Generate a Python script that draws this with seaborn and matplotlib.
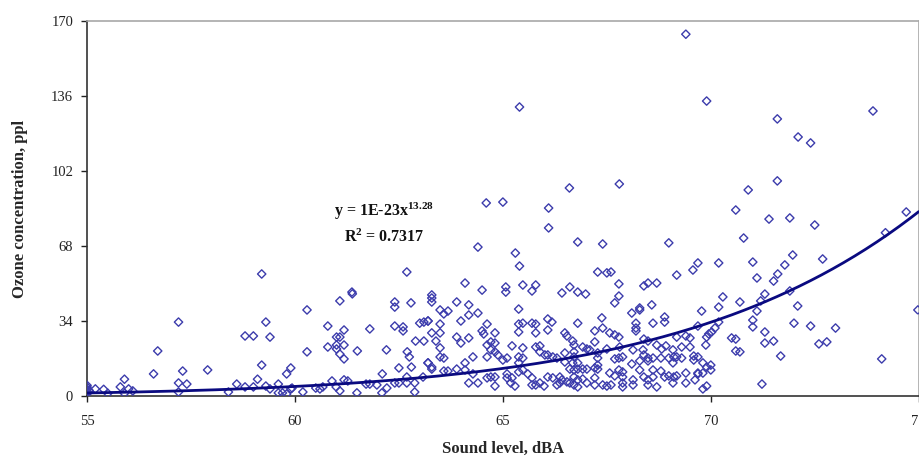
import matplotlib
matplotlib.use("Agg")
import matplotlib.pyplot as plt
import seaborn as sns
import numpy as np
import pandas as pd

# ---------------- data ----------------
sound_level = [
    # 55-60 dBA
    55.0, 55.0, 55.0, 55.0, 55.0, 55.05, 55.2, 55.4, 55.5, 55.8, 55.9, 56.0, 56.1, 55.9,
    56.6, 56.7, 57.2, 57.3, 57.2, 57.4, 57.2, 57.9, 58.4, 58.6, 58.8, 59.0, 58.8, 59.0,
    59.1, 59.2, 59.3, 59.4, 59.2, 59.3, 59.4, 59.6, 59.6, 59.7, 59.8, 59.8, 59.9, 59.9,
    # 60-63 dBA
    62.69, 61.37, 61.38, 60.29, 61.08, 62.4, 62.4, 62.79, 60.79, 61.18, 61.8, 62.4, 62.6,
    62.6, 63.0, 63.1, 63.2, 61.0, 61.08, 61.0, 60.79, 61.0, 61.18, 61.08, 61.18, 60.29,
    61.5, 62.2, 62.7, 62.75, 62.9, 63.1, 62.5, 62.8, 63.2, 62.1,
    59.93, 60.19, 60.50, 60.60, 60.67, 60.89, 60.99, 61.08, 61.18, 61.27, 61.49, 61.71,
    61.80, 61.97, 62.09, 62.21, 62.40, 62.50, 62.69, 62.69, 62.88, 62.88, 63.08,
    # 63-66.4 dBA
    64.09, 64.50, 65.07, 65.07, 65.48, 65.79, 65.70, 63.29, 63.29, 63.29, 63.89, 64.18,
    63.49, 63.58, 63.68, 64.18, 64.40, 65.38, 63.20, 63.99, 63.49, 64.62, 65.38, 65.48,
    65.70, 65.79, 66.08, 66.18, 66.08, 63.29, 63.49, 64.50, 64.54, 64.81, 65.38, 65.79,
    63.89, 64.18, 63.39, 63.99, 64.62, 64.71, 64.81, 65.22, 65.48, 65.79, 65.89, 63.49,
    64.71, 64.81, 64.88, 65.0, 65.38, 65.48, 65.89, 66.01, 66.08, 66.20, 66.30, 63.49,
    63.58, 64.28, 64.62, 63.20, 63.29, 63.29, 64.09, 65.10, 65.38,
    63.58, 63.68, 63.89, 64.09, 64.18, 64.28, 64.40, 64.62, 64.71, 64.81, 64.81, 65.10,
    65.10, 65.22, 65.29, 65.19, 65.38, 65.48, 65.60, 65.70, 65.70, 65.79, 65.89, 65.99,
    66.08, 66.20, 66.30, 66.37, 66.37,
    # 66.4-69.6 dBA
    67.28, 67.50, 67.60, 69.18, 66.61, 66.42, 66.80, 66.99, 67.79, 67.79, 67.69, 68.39,
    68.49, 68.70, 68.58, 68.10, 68.29, 68.29, 67.38, 66.80, 67.21, 67.40, 68.20, 68.20,
    68.20, 68.61, 68.89, 68.89, 66.49, 66.54, 67.57, 67.69, 67.79, 68.39, 68.49, 69.18,
    69.40, 69.50, 66.68, 66.71, 67.21, 68.70, 68.82, 68.92, 69.09, 69.30, 69.50, 66.92,
    67.02, 67.09, 67.50, 67.81, 68.13, 68.37, 66.49, 66.71, 66.71, 67.28, 67.28, 68.39,
    68.49, 68.61, 68.80, 68.99, 69.11, 67.69, 67.79, 67.88, 68.29, 68.49, 68.10, 69.09,
    69.18, 69.30,
    66.49, 66.68, 66.80, 66.61, 66.71, 66.80, 66.92, 67.02, 67.21, 67.28, 67.28,
    67.57, 67.79, 67.88, 67.88, 67.88, 67.88,
    68.29, 68.61, 68.80, 68.99, 69.11, 69.40,
    68.13, 68.39, 68.49, 68.49, 68.61,
    66.42, 66.54, 66.61, 66.71, 66.71, 66.80, 66.80, 66.92, 67.02, 67.21, 67.21, 67.40,
    67.50, 67.60, 67.69, 68.13, 68.70, 68.89, 69.09, 69.18, 69.40, 69.62,
    # 69.6-75 dBA
    68.99, 70.79, 69.57, 69.69, 70.19, 71.01, 71.97, 71.78, 71.61, 71.51, 71.11, 72.69,
    70.29, 70.70, 71.30, 71.20, 71.90, 72.09, 70.19, 69.78, 71.11, 71.01, 71.01, 70.19,
    70.10, 70.02, 69.95, 69.90, 69.88, 69.69, 71.30, 71.30, 72.0, 72.40, 73.0, 70.50,
    70.60, 71.51, 72.60, 72.79, 70.60, 70.70, 71.68, 74.11, 74.98, 71.23,
    69.59, 69.69, 69.59, 69.81, 69.90, 70.0, 70.0, 69.81, 69.90, 69.81, 69.69, 69.69,
    # high values
    65.4, 64.6, 65.0, 66.1, 66.1, 66.6, 67.8, 69.4, 69.9, 71.6, 72.1, 72.4, 73.9, 71.6,
    70.9, 70.6, 71.4, 71.9, 72.5, 74.7, 74.2, 66.8, 67.4, 65.3, 65.4, 64.4,
]

ozone_ppl = [
    # 55-60 dBA
    1.0, 2.0, 3.0, 4.0, 4.8, 2.5, 3.2, 3.0, 1.2, 4.1, 7.6, 3.2, 2.3, 1.2,
    10.0, 20.4, 33.5, 11.3, 5.9, 5.4, 1.8, 11.8, 1.8, 5.4, 27.2, 27.2, 4.1, 4.1,
    7.6, 55.3, 33.5, 26.7, 14.0, 4.5, 3.2, 5.4, 1.4, 1.4, 0.9, 10.0, 12.7, 3.2,
    # 60-63 dBA
    56.2, 47.1, 46.3, 39.0, 43.1, 42.6, 40.3, 42.2, 31.7, 29.9, 30.4, 31.7, 31.3,
    29.5, 33.0, 33.5, 34.0, 26.7, 26.7, 23.1, 22.2, 21.3, 23.1, 19.0, 16.8, 20.0,
    20.4, 20.9, 20.0, 17.7, 24.9, 24.9, 12.7, 13.1, 15.0, 10.0,
    3.6, 1.8, 3.6, 3.2, 4.1, 6.8, 4.1, 2.3, 7.3, 6.8, 1.4, 5.4,
    5.4, 5.0, 1.4, 3.6, 5.9, 5.9, 8.6, 5.9, 5.9, 1.8, 8.6,
    # 63-66.4 dBA
    51.2, 48.0, 49.4, 47.1, 50.3, 50.3, 47.6, 45.8, 44.4, 42.6, 42.6, 41.3,
    39.0, 37.2, 38.5, 36.7, 37.6, 39.4, 34.0, 34.0, 32.6, 32.6, 32.6, 33.0,
    33.0, 32.6, 34.9, 33.5, 29.9, 28.6, 28.6, 29.5, 28.1, 28.6, 29.0, 28.6,
    26.7, 26.3, 24.9, 24.0, 23.1, 24.5, 24.0, 22.7, 21.8, 22.2, 22.7, 21.8,
    20.9, 20.0, 18.6, 16.3, 17.7, 17.2, 20.0, 18.6, 18.6, 17.7, 17.2, 17.7,
    17.2, 17.7, 17.7, 15.0, 13.1, 12.2, 15.0, 17.2, 15.0,
    11.3, 11.3, 12.2, 11.8, 5.9, 10.0, 5.9, 8.2, 8.6, 8.6, 4.5, 10.0,
    8.2, 8.2, 4.5, 5.9, 10.9, 11.8, 10.0, 8.2, 5.0, 5.0, 5.9, 4.5,
    8.6, 8.2, 5.0, 8.6, 5.9,
    # 66.4-69.6 dBA
    56.2, 55.8, 56.2, 54.8, 49.4, 46.7, 47.1, 46.2, 50.8, 45.3, 42.2, 49.9,
    51.2, 51.2, 41.3, 37.6, 39.9, 39.0, 35.4, 33.0, 29.5, 30.8, 33.0, 30.8,
    29.5, 33.0, 35.8, 33.5, 28.6, 27.2, 28.6, 27.7, 26.7, 25.8, 24.9, 26.7,
    27.2, 26.3, 24.9, 23.1, 24.5, 23.1, 21.3, 22.7, 20.9, 22.2, 22.2, 22.2,
    21.3, 20.9, 21.3, 22.2, 20.9, 20.9, 19.5, 20.0, 17.7, 19.5, 17.2, 18.6,
    17.2, 17.2, 17.2, 17.2, 17.7, 16.8, 17.2, 17.7, 15.9, 15.9, 14.5, 15.0,
    17.7, 17.2,
    15.4, 15.0, 15.0, 12.2, 11.8, 12.2, 12.2, 12.2, 12.7, 12.2, 14.0,
    10.4, 11.8, 10.9, 8.6, 5.9, 4.1,
    11.8, 11.8, 11.3, 9.1, 8.6, 10.4,
    7.3, 8.6, 7.3, 5.0, 8.6,
    7.3, 6.4, 5.9, 8.6, 5.0, 7.3, 4.1, 7.7, 5.9, 8.2, 5.0, 5.0,
    4.5, 5.0, 9.1, 5.0, 4.1, 8.6, 5.9, 9.1, 5.9, 7.3,
    # 69.6-75 dBA
    69.4, 71.6, 57.1, 60.3, 60.3, 60.7, 63.9, 59.4, 55.3, 52.1, 53.5, 62.1,
    44.9, 42.6, 46.2, 43.1, 47.6, 40.8, 40.3, 38.5, 38.5, 34.4, 31.3, 33.5,
    30.8, 29.0, 28.1, 26.7, 23.1, 31.7, 29.0, 24.0, 33.0, 31.7, 30.8, 26.3,
    25.8, 24.9, 23.6, 24.5, 20.4, 20.0, 18.1, 16.8, 39.0, 5.4,
    18.1, 17.7, 16.3, 15.0, 13.1, 14.0, 11.8, 10.4, 4.5, 3.2, 10.4, 10.0,
    # high values
    131.0, 87.5, 87.9, 85.2, 76.2, 94.3, 96.1, 164.0, 133.7, 125.6, 117.4, 114.7, 129.2, 97.5,
    93.4, 84.3, 80.2, 80.7, 77.5, 83.4, 74.0, 69.8, 68.9, 64.8, 58.9, 67.5,
]

# power trend line y = a * x^b (as printed on the chart)
trend_coef = 1.05e-23
trend_exp = 13.28

x_ticks = [55, 60, 65, 70, 75]
y_ticks = [0, 34, 68, 102, 136, 170]

# ---------------- styling ----------------
sns.set_style("ticks")
plt.rcParams["font.family"] = ["Liberation Serif", "DejaVu Serif"]
plt.rcParams["mathtext.fontset"] = "custom"
plt.rcParams["mathtext.rm"] = "Liberation Serif:bold"
plt.rcParams["mathtext.bf"] = "Liberation Serif:bold"
plt.rcParams["mathtext.it"] = "Liberation Serif:bold"

df = pd.DataFrame({"sound": sound_level, "ozone": ozone_ppl})
xs = np.linspace(55, 75, 300)
trend = pd.DataFrame({"sound": xs, "ozone": trend_coef * xs ** trend_exp})

fig = plt.figure(figsize=(9.2, 4.59), dpi=100)
ax = fig.add_axes([0.0946, 0.1373, 0.904, 0.817])

sns.scatterplot(data=df, x="sound", y="ozone", ax=ax, marker="D", s=18,
                facecolors="none", edgecolor="#3c3cac", linewidth=1.0, zorder=3)
sns.lineplot(data=trend, x="sound", y="ozone", ax=ax, color="#0a0a80",
             linewidth=2.0, zorder=4)

ax.set_xlim(55, 75)
ax.set_ylim(0, 170)
ax.set_xticks(x_ticks)
ax.set_yticks(y_ticks)
ax.set_xticklabels([str(t) for t in x_ticks])
ax.set_yticklabels([str(t) for t in y_ticks])
ax.tick_params(axis="both", direction="out", length=4, width=1.0,
               labelsize=10.5, colors="#222222", pad=6)
ax.tick_params(axis="x", pad=10)

for side in ["left", "bottom"]:
    ax.spines[side].set_color("#333333")
    ax.spines[side].set_linewidth(1.2)
for side in ["top", "right"]:
    ax.spines[side].set_visible(True)
    ax.spines[side].set_color("#a8a8a8")
    ax.spines[side].set_linewidth(1.2)

ax.set_xlabel("Sound level, dBA", fontsize=12, fontweight="bold", labelpad=9)
ax.set_ylabel("Ozone concentration, ppl", fontsize=12, fontweight="bold", labelpad=17)

ax.text(62.15, 83.5, "y = 1E-23x$^{13.28}$", fontsize=11.5, fontweight="bold",
        ha="center", va="center", color="#111111")
ax.text(62.15, 72.0, "R$^{2}$ = 0.7317", fontsize=11.5, fontweight="bold",
        ha="center", va="center", color="#111111")

fig.savefig("out.png", dpi=100)
